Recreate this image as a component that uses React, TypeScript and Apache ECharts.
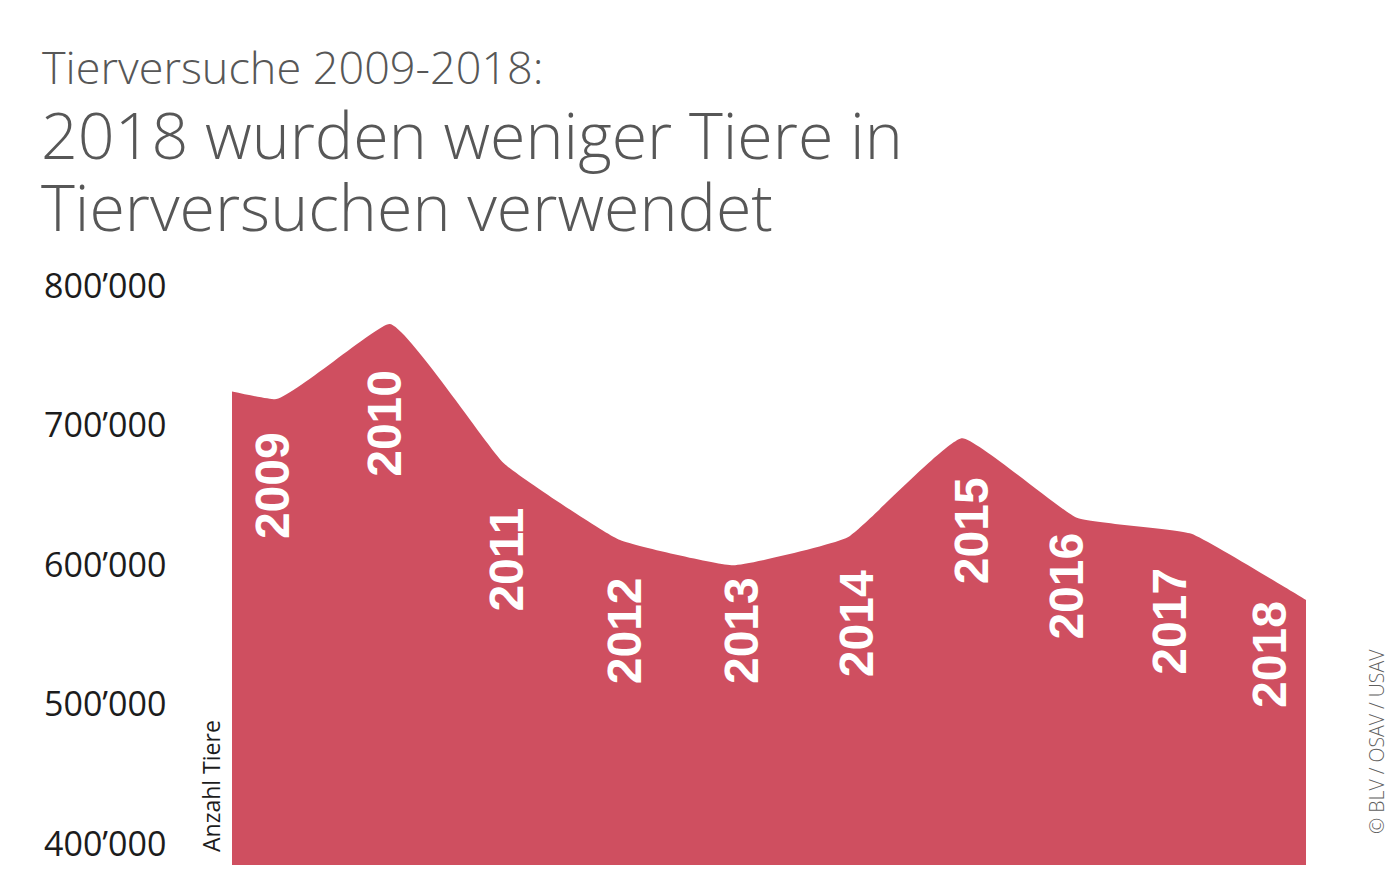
import React, { useEffect, useRef } from "react";
import * as echarts from "echarts";

// Anzahl Tiere in Tierversuchen pro Jahr (2008 nur für den Anschnitt am linken Rand)
const years = [2008, 2009, 2010, 2011, 2012, 2013, 2014, 2015, 2016, 2017, 2018];
const animals = [735000, 718000, 772000, 672000, 617500, 599000, 619000, 690000, 633000, 621500, 574000];
const labelledYears = [2009, 2010, 2011, 2012, 2013, 2014, 2015, 2016, 2017, 2018];
const yTicks = [400000, 500000, 600000, 700000, 800000];

// Verschiebung der Jahreszahlen gegenüber dem Datenpunkt [dx, dy] in px
const yearLabelShift: Record<number, [number, number]> = {
  2009: [-2, 33],
  2010: [-5, 46],
  2011: [2, 44],
  2012: [6, 38],
  2013: [8, 12],
  2014: [9, 33],
  2015: [9, 39],
  2016: [-10, 15],
  2017: [-22, 34],
  2018: [-37, 1],
};

const RED = "#cf4f60";
const TITLE_GREY = "#575757";

const fmt = (v: number) => {
  const s = String(Math.round(v));
  return s.slice(0, s.length - 3) + "\u2019" + s.slice(s.length - 3);
};

export default function App() {
  const ref = useRef<HTMLDivElement>(null);

  useEffect(() => {
    if (!ref.current) return;
    const chart = echarts.init(ref.current, undefined, { renderer: "svg" });

    const seriesData = years.map((y, i) => {
      const shown = labelledYears.includes(y);
      const shift = yearLabelShift[y] || [0, 0];
      return {
        value: [y, animals[i]],
        label: shown
          ? { show: true, offset: [-shift[1], shift[0]] }
          : { show: false },
      };
    });

    chart.setOption({
      animation: false,
      backgroundColor: "#ffffff",
      grid: { left: 232, right: 94, top: 285, bottom: 9, containLabel: false },
      xAxis: {
        type: "value",
        min: 2008.625,
        max: 2018,
        show: false,
      },
      yAxis: {
        type: "value",
        min: 384000,
        max: 800000,
        axisLine: { show: false },
        axisTick: { show: false },
        splitLine: { show: false },
        axisLabel: {
          customValues: yTicks,
          formatter: (v: number) => fmt(v),
          align: "left",
          margin: 188,
          fontFamily: "Open Sans",
          fontSize: 34,
          color: "#1c1c1c",
        },
      },
      series: [
        {
          type: "line",
          data: seriesData,
          clip: true,
          smooth: 0.12,
          symbol: "circle",
          symbolSize: 0.1,
          itemStyle: { color: RED },
          lineStyle: { width: 0, color: RED },
          areaStyle: { color: RED, opacity: 1 },
          label: {
            show: true,
            position: "inside",
            rotate: 90,
            align: "right",
            verticalAlign: "middle",
            formatter: (p: any) => String(p.value[0]),
            fontFamily: "Liberation Sans",
            fontWeight: "bold",
            fontSize: 48,
            color: "#ffffff",
          },
        },
      ],
      graphic: [
        {
          type: "text",
          left: 42,
          top: 44,
          style: {
            text: "Tierversuche 2009-2018:",
            fontFamily: "Open Sans",
            fontWeight: 300,
            fontSize: 45,
            lineHeight: 45,
            fill: TITLE_GREY,
          },
        },
        {
          type: "text",
          left: 41,
          top: 101,
          style: {
            text: "2018 wurden weniger Tiere in",
            fontFamily: "Open Sans",
            fontWeight: 300,
            fontSize: 64.5,
            lineHeight: 64.5,
            fill: TITLE_GREY,
          },
        },
        {
          type: "text",
          left: 41,
          top: 173,
          style: {
            text: "Tierversuchen verwendet",
            fontFamily: "Open Sans",
            fontWeight: 300,
            fontSize: 64.5,
            lineHeight: 64.5,
            fill: TITLE_GREY,
          },
        },
        {
          type: "text",
          x: 211,
          y: 852,
          rotation: Math.PI / 2,
          style: {
            text: "Anzahl Tiere",
            fontFamily: "Open Sans",
            fontSize: 23,
            fill: "#1c1c1c",
            align: "left",
            verticalAlign: "middle",
          },
        },
        {
          type: "text",
          x: 1376,
          y: 834,
          rotation: Math.PI / 2,
          style: {
            text: "\u00a9 BLV / OSAV / USAV",
            fontFamily: "Open Sans",
            fontWeight: 300,
            fontSize: 19.5,
            fill: "#5f5f5f",
            align: "left",
            verticalAlign: "middle",
          },
        },
      ],
    });

    return () => chart.dispose();
  }, []);

  return (
    <div
      ref={ref}
      style={{ position: "absolute", left: 0, top: 0, width: 1400, height: 874 }}
    />
  );
}
